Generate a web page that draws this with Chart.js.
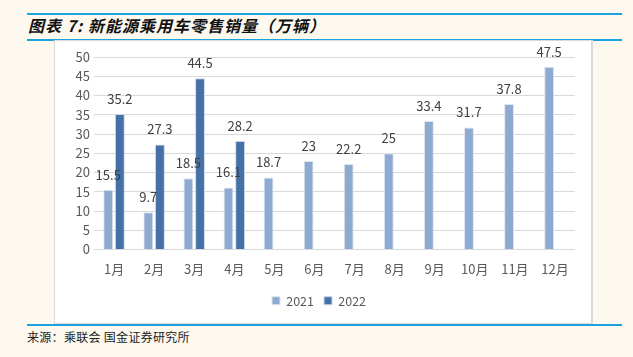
<!DOCTYPE html>
<html>
<head>
<meta charset="utf-8">
<script src="https://cdn.jsdelivr.net/npm/chart.js@4"></script>
<style>
  html, body { margin: 0; padding: 0; }
  body { width: 633px; height: 357px; background: #fdf9ef; position: relative; overflow: hidden; font-family: "Noto Sans CJK SC", sans-serif; }
  .rule { position: absolute; left: 27px; width: 595px; height: 2px; background: #1aa3e0; }
  #title { position: absolute; left: 28px; top: 14px; font-size: 16px; font-weight: bold; font-style: italic; letter-spacing: 1px; color: #111; line-height: 22px; white-space: nowrap; }
  #box { position: absolute; left: 54px; top: 40px; width: 536px; height: 282px; background: #fff; border: 1px solid #d9d9d9; border-right-width: 2px; }
  #wrap { position: absolute; left: 0; top: 0; width: 536px; height: 282px; }
  #source { position: absolute; left: 27px; top: 329px; font-size: 12px; color: #222; line-height: 16px; white-space: nowrap; letter-spacing: 0.3px; }
</style>
</head>
<body>
<div class="rule" style="top:13px"></div>
<div id="title">图表 7: 新能源乘用车零售销量（万辆）</div>
<div class="rule" style="top:39px"></div>
<div id="box"><div id="wrap"><canvas id="c"></canvas></div></div>
<div class="rule" style="top:324px"></div>
<div id="source">来源：乘联会 国金证券研究所</div>
<script>
const categories = ["1月","2月","3月","4月","5月","6月","7月","8月","9月","10月","11月","12月"];
const seriesNames = ["2021","2022"];
const values2021 = [15.5, 9.7, 18.5, 16.1, 18.7, 23, 22.2, 25, 33.4, 31.7, 37.8, 47.5];
const values2022 = [35.2, 27.3, 44.5, 28.2, null, null, null, null, null, null, null, null];
const yTicks = [0, 5, 10, 15, 20, 25, 30, 35, 40, 45, 50];

const labelPlugin = {
  id: 'valueLabels',
  afterDatasetsDraw(chart) {
    const ctx = chart.ctx;
    ctx.save();
    ctx.font = '13px "Noto Sans CJK SC", sans-serif';
    ctx.fillStyle = '#404040';
    ctx.textAlign = 'center';
    ctx.textBaseline = 'middle';
    chart.data.datasets.forEach((ds, i) => {
      const meta = chart.getDatasetMeta(i);
      meta.data.forEach((bar, j) => {
        const v = ds.data[j];
        if (v === null || v === undefined) return;
        ctx.fillText(String(v), bar.x, bar.y - 15);
      });
    });
    ctx.restore();
  }
};

new Chart(document.getElementById('c'), {
  type: 'bar',
  data: {
    labels: categories,
    datasets: [
      { label: seriesNames[0], data: values2021, backgroundColor: '#8faad1', borderColor: '#dde5f1', borderWidth: 1, categoryPercentage: 0.58, barPercentage: 0.85 },
      { label: seriesNames[1], data: values2022, backgroundColor: '#4571a7', borderColor: '#c9d5e6', borderWidth: 1, categoryPercentage: 0.58, barPercentage: 0.85 }
    ]
  },
  options: {
    responsive: true,
    maintainAspectRatio: false,
    animation: false,
    layout: { padding: { top: 16, right: 16, bottom: 6, left: 8 } },
    plugins: {
      tooltip: { enabled: false },
      legend: {
        position: 'bottom',
        labels: {
          boxWidth: 8, boxHeight: 8, padding: 10,
          color: '#595959',
          font: { size: 12.5, family: '"Noto Sans CJK SC", sans-serif' }
        }
      }
    },
    scales: {
      x: {
        grid: { display: false, drawTicks: false },
        border: { display: false },
        ticks: { color: '#595959', padding: 12, font: { size: 13, family: '"Noto Sans CJK SC", sans-serif' } },
        afterFit(axis) { axis.height = 35; }
      },
      y: {
        min: 0, max: 50,
        afterBuildTicks(axis) { axis.ticks = yTicks.map(v => ({ value: v })); },
        grid: { color: '#d9d9d9', lineWidth: 1, drawTicks: false },
        border: { display: false },
        ticks: { color: '#595959', padding: 4, font: { size: 13, family: '"Noto Sans CJK SC", sans-serif' } },
        afterFit(axis) { axis.width = 31; }
      }
    }
  },
  plugins: [labelPlugin]
});
</script>
</body>
</html>
